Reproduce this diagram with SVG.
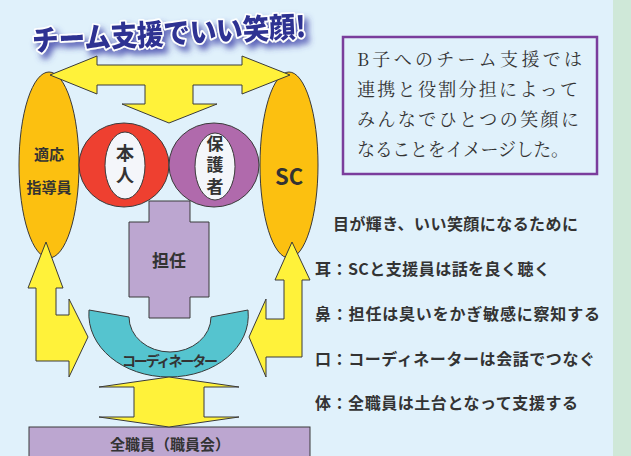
<svg xmlns="http://www.w3.org/2000/svg" width="631" height="456" viewBox="0 0 631 456">
<defs>
<style>
.sh{stroke:#3a3a3a;stroke-width:1;stroke-linejoin:miter}
.arrow{fill:#fff23a;stroke:#3a3a3a;stroke-width:1}
.lbl{font-family:"Noto Sans CJK JP","Noto Sans",sans-serif;font-weight:700;fill:#333;text-anchor:middle;dominant-baseline:central}
.vert{writing-mode:vertical-rl}
.list{font-family:"Noto Sans CJK JP","Noto Sans",sans-serif;font-weight:700;fill:#333;font-size:16px;dominant-baseline:central}
.box{font-family:"Noto Serif CJK JP","Noto Sans CJK JP",serif;fill:#333;font-size:18px;dominant-baseline:central}
</style>
<filter id="glow" x="-20%" y="-50%" width="140%" height="200%">
<feGaussianBlur in="SourceAlpha" stdDeviation="3" result="b"/>
<feOffset dx="4" dy="5" in="b" result="o"/>
<feFlood flood-color="#3b3fa8" flood-opacity="0.8"/>
<feComposite in2="o" operator="in" result="s"/>
<feMerge><feMergeNode in="s"/><feMergeNode in="SourceGraphic"/></feMerge>
</filter>
</defs>
<rect x="0" y="0" width="631" height="456" fill="#e0f1fb"/>
<rect x="613" y="0" width="18" height="456" fill="#cfe8d8"/>

<g id="title" filter="url(#glow)">
<text x="32" y="44" transform="rotate(-3 170 32)" font-family="'Noto Sans CJK JP',sans-serif" font-weight="900" font-size="29" fill="#2e3192" stroke="#ffffff" stroke-width="3.5" paint-order="stroke" stroke-linejoin="round" textLength="274" lengthAdjust="spacingAndGlyphs">チーム支援でいい笑顔!</text>
</g>

<g id="node-tekio">
<ellipse class="sh" cx="49" cy="165" rx="30" ry="93" fill="#fcc010"/>
<text class="lbl" x="49" y="153" font-size="15">適応</text>
<text class="lbl" x="49" y="186" font-size="15">指導員</text>
</g>
<g id="node-sc">
<ellipse class="sh" cx="289" cy="165" rx="29" ry="93" fill="#fcc010"/>
<text class="lbl" x="289" y="175" font-size="22">SC</text>
</g>
<g id="node-tannin">
<polygon class="sh" fill="#bca6d0" points="149,201 190,201 190,222 209,222 209,297 190,297 190,318 149,318 149,297 129,297 129,222 149,222"/>
<text class="lbl" x="169" y="259" font-size="17">担任</text>
</g>
<g id="node-honnin">
<ellipse class="sh" cx="124" cy="165" rx="45" ry="42" fill="#ee4030"/>
<ellipse class="sh" cx="125" cy="165.5" rx="20" ry="33.5" fill="#f4f6fa"/>
<text class="lbl vert" x="125" y="166" font-size="18" letter-spacing="4">本人</text>
</g>
<g id="node-hogosha">
<ellipse class="sh" cx="214" cy="165" rx="45" ry="42" fill="#b06aac"/>
<ellipse class="sh" cx="215" cy="166.5" rx="20" ry="33.5" fill="#f4f6fa"/>
<text class="lbl vert" x="215" y="167" font-size="17" letter-spacing="4.5">保護者</text>
</g>
<g id="node-coordinator">
<path class="sh" fill="#55c4cf" d="M89,310 L129,317 A41,35 0 0 0 211,317 L248,310 C252,347 215,377 169,377 C123,377 86,347 89,310 Z"/>
<text class="lbl" x="170" y="360" font-size="14" font-weight="500" textLength="96">コーディネーター</text>
</g>
<g id="node-all">
<rect class="sh" x="29" y="427" width="281" height="40" fill="#bca6d0"/>
<text class="lbl" x="170" y="443" font-size="15">全職員（職員会）</text>
</g>

<g id="connectors">
<polygon class="arrow" points="50,75 97,56 97,65 242,65 242,56 290,75 242,94 242,85 193,85 193,104 217,104 169,123 122,104 145,104 145,85 97,85 97,94"/>
<polygon class="arrow" points="46,242 63,288 56,288 56,315 69,315 69,299 88,337 69,377 69,361 36,361 36,288 28,288"/>
<polygon class="arrow" points="292,242 310,280 302,280 302,357 266,357 266,377 249,337 266,299 266,319 284,319 284,280 275,280"/>
<polygon class="arrow" points="169,377 239,387 204,387 204,417 239,417 169,427 99,417 134,417 134,387 99,387"/>
</g>

<g id="note">
<rect x="343" y="37" width="254" height="137" fill="none" stroke="#7a3d9c" stroke-width="2.5"/>
<text class="box" x="357" y="58" textLength="225">B子へのチーム支援では</text>
<text class="box" x="357" y="88" textLength="221">連携と役割分担によって</text>
<text class="box" x="357" y="118" textLength="222">みんなでひとつの笑顔に</text>
<text class="box" x="357" y="148" textLength="212">なることをイメージした。</text>
</g>

<g id="list">
<text class="list" x="333" y="223" textLength="245">目が輝き、いい笑顔になるために</text>
<text class="list" x="315" y="268" textLength="235">耳：SCと支援員は話を良く聴く</text>
<text class="list" x="315" y="313" textLength="285">鼻：担任は臭いをかぎ敏感に察知する</text>
<text class="list" x="315" y="358" textLength="280">口：コーディネーターは会話でつなぐ</text>
<text class="list" x="315" y="402" textLength="263">体：全職員は土台となって支援する</text>
</g>
</svg>
